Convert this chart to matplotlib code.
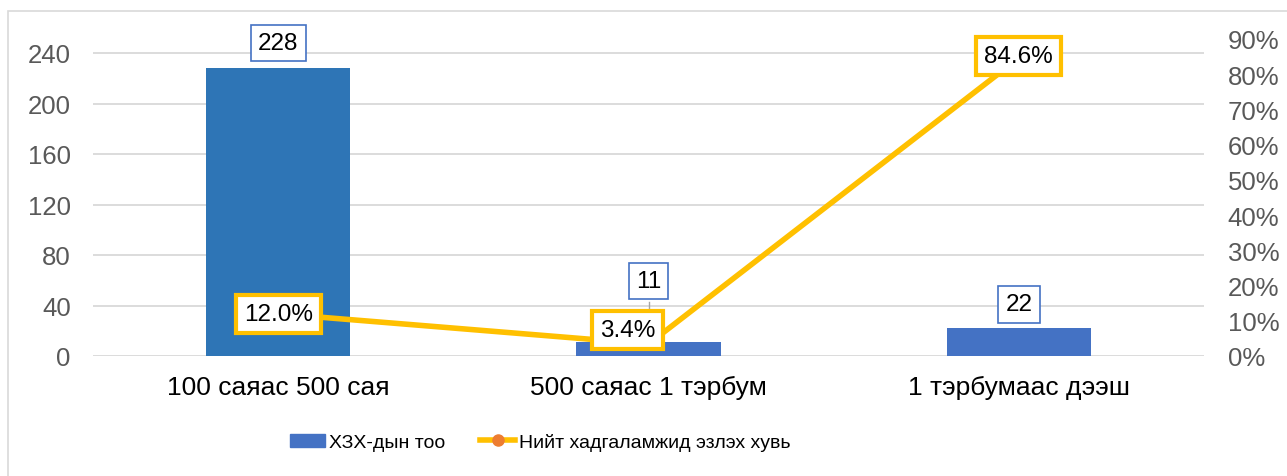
import matplotlib.pyplot as plt
from matplotlib.patches import Rectangle, Patch
from matplotlib.lines import Line2D
from matplotlib.ticker import PercentFormatter

plt.rcParams['font.family'] = ['Liberation Sans', 'DejaVu Sans']

# data
categories = ['100 саяас 500 сая', '500 саяас 1 тэрбум', '1 тэрбумаас дээш']
counts = [228, 11, 22]
shares = [0.120, 0.034, 0.846]
bar_colors = ['#2E75B6', '#4472C4', '#4472C4']
bar_name = 'ХЗХ-дын тоо'
line_name = 'Нийт хадгаламжид эзлэх хувь'

fig = plt.figure(figsize=(12.87, 4.77), dpi=100)
# outer chart border
fig.patches.append(Rectangle((8 / 1287, -0.1), 1.2, 1.1 - 12 / 477,
                             transform=fig.transFigure, fill=False,
                             edgecolor='#D9D9D9', lw=1.2, zorder=0))

ax = fig.add_axes([93 / 1287, 1 - 357 / 477, (1204 - 93) / 1287, (357 - 40) / 477])
x = [0.5, 1.5, 2.5]
ax.bar(x, counts, width=0.39, color=bar_colors, zorder=2)
ax.set_xlim(0, 3)
ax.set_ylim(0, 240 * 317 / 303)
ax.set_yticks(range(0, 241, 40))
ax.set_xticks(x)
ax.set_xticklabels(categories, fontsize=19, color='black')
ax.tick_params(axis='y', labelsize=18.5, labelcolor='#595959', length=0, pad=16)
ax.tick_params(axis='x', length=0, pad=14)
ax.grid(axis='y', color='#D9D9D9', lw=1.3, zorder=0)
for s in ax.spines.values():
    s.set_visible(False)

# bar value labels
bar_offsets = [25, 61, 24]
for xi, c, off in zip(x, counts, bar_offsets):
    ax.annotate(str(c), (xi, c), xytext=(0, off * 0.72), textcoords='offset points',
                ha='center', va='center', fontsize=17.5, zorder=5,
                bbox=dict(boxstyle='square,pad=0.3', fc='white', ec='#4472C4', lw=1.2))
# leader line for the small bar label
ax.plot([x[1], x[1]], [counts[1] + 3.5, counts[1] + 32], color='#A6A6A6', lw=1, zorder=3)

ax2 = ax.twinx()
ax2.plot(x, shares, color='#FFC000', lw=4, marker='o', markersize=8,
         markerfacecolor='#ED7D31', markeredgecolor='#ED7D31', zorder=3)
ax2.set_ylim(0, 0.9)
ax2.set_yticks([i / 10 for i in range(10)])
ax2.yaxis.set_major_formatter(PercentFormatter(1.0, decimals=0))
ax2.tick_params(axis='y', labelsize=18.5, labelcolor='#595959', length=0, pad=17)
for s in ax2.spines.values():
    s.set_visible(False)

line_offsets = [(0, 0), (-21, 14), (0, 2)]
for xi, v, (dx, dy) in zip(x, shares, line_offsets):
    ax2.annotate(f'{v * 100:.1f}%', (xi, v), xytext=(dx * 0.72, dy * 0.72),
                 textcoords='offset points', ha='center', va='center', fontsize=17.5,
                 zorder=6,
                 bbox=dict(boxstyle='square,pad=0.33', fc='white', ec='#FFC000', lw=3))

handles = [Patch(color='#4472C4', label=bar_name),
           Line2D([], [], color='#FFC000', lw=4, marker='o', markersize=8,
                  markerfacecolor='#ED7D31', markeredgecolor='#ED7D31', label=line_name)]
fig.legend(handles=handles, loc='center', bbox_to_anchor=(0.42, 0.071), ncol=2,
           frameon=False, fontsize=14,
           handlelength=1.8, handleheight=0.7, handletextpad=0.2, columnspacing=1.8)

fig.savefig('out.png', dpi=100)
